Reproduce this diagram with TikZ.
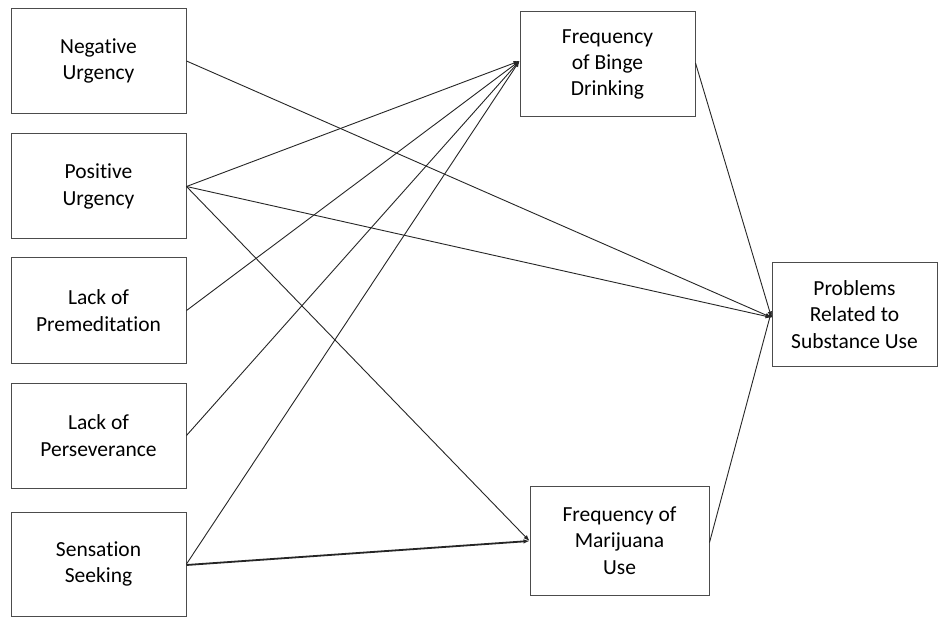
\documentclass[tikz,border=0pt]{standalone}
\usepackage{fontspec}
\setmainfont[RawFeature={-liga;-clig}]{Carlito}
\usetikzlibrary{arrows.meta}
\begin{document}
\begin{tikzpicture}[x=1pt,y=-1pt,
  box/.style={draw=black!70, line width=1pt, fill=white, align=center, inner sep=0pt,
    font=\fontsize{21.5}{26.3}\selectfont},
  link/.style={draw=black!85, line width=0.9pt, -{Latex[length=6pt,width=4.5pt]}},
  heavy/.style={link, line width=1.8pt}]
\useasboundingbox[fill=white] (0,0) rectangle (939,617);
\node[box, minimum width=175pt, minimum height=105pt] (nu) at (98.5,61) {Negative\\Urgency};
\node[box, minimum width=175pt, minimum height=105pt] (pu) at (98.5,186.5) {Positive\\Urgency};
\node[box, minimum width=175pt, minimum height=105pt] (lpm) at (98.5,310.5) {Lack of\\Premeditation};
\node[box, minimum width=175pt, minimum height=105pt] (lps) at (98.5,435.5) {Lack of\\Perseverance};
\node[box, minimum width=175pt, minimum height=104pt] (ss) at (98.5,564) {Sensation\\Seeking};
\node[box, minimum width=175pt, minimum height=105pt] (bd) at (607.5,64.5) {Frequency\\of Binge\\Drinking};
\node[box, minimum width=179pt, minimum height=109pt] (mj) at (619.5,540.5) {Frequency of\\Marijuana\\Use};
\node[box, minimum width=165pt, minimum height=103pt] (pr) at (854.5,314.5) {Problems\\Related to\\Substance Use};
\coordinate (bdin) at ([yshift=3.5pt]bd.west);
\coordinate (mjin) at ([yshift=-0.5pt]mj.west);
\coordinate (prin) at ([yshift=-3pt]pr.west);
\coordinate (prin2) at ([yshift=3.5pt]pr.west);
\draw[link] (nu.east) -- (prin);
\draw[link] (pu.east) -- (bdin);
\draw[link] (pu.east) -- (prin);
\draw[link] (pu.east) -- (mjin);
\draw[link] (lpm.east) -- (bdin);
\draw[link] (lps.east) -- (bdin);
\draw[link] (ss.east) -- (bdin);
\draw[heavy] ([yshift=-1pt]ss.east) -- (mjin);
\draw[link] ([yshift=1.5pt]bd.east) -- (prin);
\draw[link] ([yshift=-2pt]mj.east) -- (prin2);
\end{tikzpicture}
\end{document}
